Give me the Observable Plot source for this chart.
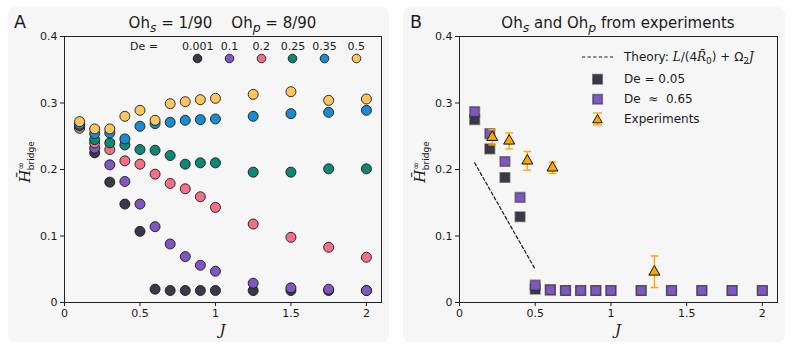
<!DOCTYPE html>
<html><head><meta charset="utf-8">
<script src="https://cdn.jsdelivr.net/npm/d3@7"></script>
<script src="https://cdn.jsdelivr.net/npm/@observablehq/plot@0.6"></script>
<style>
body{margin:0;background:#fff;font-family:"DejaVu Sans",sans-serif;color:#1a1a1a}
#root{position:relative;width:793px;height:355px;overflow:hidden;background:#fff}
.panel{position:absolute;background:#f6f6f6;border-radius:7px}
.abs{position:absolute;white-space:nowrap;line-height:1}
.plot{position:absolute;top:0}
.m{font-family:"DejaVu Serif",serif;font-style:italic}
sub,sup{line-height:0}
</style></head><body><div id="root"></div>
<script>
// ---------- Panel A data ----------
const J_A = [0.1,0.2,0.3,0.4,0.5,0.6,0.7,0.8,0.9,1.0,1.25,1.5,1.75,2.0];
const deLevels = ["0.001","0.1","0.2","0.25","0.35","0.5"];
const H_De0001 = [0.264,0.225,0.181,0.148,0.107,0.020,0.018,0.018,0.018,0.018,0.018,0.018,0.018,0.018];
const H_De01   = [0.265,0.232,0.207,0.182,0.148,0.114,0.088,0.069,0.056,0.047,0.029,0.022,0.020,0.018];
const H_De02   = [0.262,0.240,0.230,0.213,0.208,0.193,0.179,0.171,0.159,0.143,0.118,0.098,0.083,0.068];
const H_De025  = [0.266,0.245,0.240,0.237,0.230,0.229,0.221,0.208,0.210,0.210,0.196,0.196,0.201,0.201];
const H_De035  = [0.268,0.254,0.255,0.246,0.265,0.269,0.271,0.274,0.275,0.276,0.280,0.284,0.286,0.289];
const H_De05   = [0.272,0.261,0.261,0.280,0.289,0.274,0.299,0.302,0.305,0.307,0.313,0.317,0.304,0.306];
const deColors = ["#3c3846","#7e57c2","#f0708a","#0e8872","#1a8bd0","#fdc55e"];

// ---------- Panel B data ----------
const J_B = [0.1,0.2,0.3,0.4,0.5,0.6,0.7,0.8,0.9,1.0,1.2,1.4,1.6,1.8,2.0];
const H_De005 = [0.275,0.231,0.188,0.129,0.020,0.019,0.018,0.018,0.018,0.018,0.018,0.018,0.018,0.018,0.018];
const H_De065 = [0.287,0.254,0.212,0.158,0.026,0.019,0.018,0.018,0.018,0.018,0.018,0.018,0.018,0.018,0.018];
const expJ  = [0.216,0.328,0.448,0.614,1.287];
const expH  = [0.2485,0.243,0.213,0.2025,0.046];
const expLo = [0.237,0.231,0.199,0.194,0.0225];
const expHi = [0.260,0.255,0.227,0.211,0.070];
const theoryJ = [0.1,0.5];
const theoryH = [0.21,0.05];

const xTicks = [0,0.5,1,1.5,2];
const yTicks = [0,0.1,0.2,0.3,0.4];
const fmt = d => String(d);

// ---------- tables ----------
const seriesA = [H_De0001,H_De01,H_De02,H_De025,H_De035,H_De05];
const dataA = seriesA.flatMap((s,i)=>s.map((h,j)=>({J:J_A[j],H:h,De:deLevels[i]})));
const sqB = [
  ...H_De005.map((h,j)=>({J:J_B[j],H:h,De:"0.05"})),
  ...H_De065.map((h,j)=>({J:J_B[j],H:h,De:"0.65"}))
];
const expB = expJ.map((j,i)=>({J:j,H:expH[i],lo:expLo[i],hi:expHi[i]}));
const theoryB = theoryJ.map((j,i)=>({J:j,H:theoryH[i]}));

const capSymbol = {draw(ctx,size){const w=Math.sqrt(size)/2;ctx.moveTo(-w,0);ctx.lineTo(w,0);}};

const common = {
  height:355, marginTop:36, marginBottom:53, marginLeft:64,
  style:{background:"transparent",fontSize:"11px",fontFamily:"'DejaVu Sans',sans-serif",color:"#1a1a1a",overflow:"visible"},
  x:{domain:[0,2.1],ticks:xTicks,tickFormat:fmt,tickSize:4,tickPadding:3,label:null},
  y:{domain:[0,0.4],ticks:yTicks,tickFormat:fmt,tickSize:4,tickPadding:3,label:null}
};

const plotA = Plot.plot({...common, width:395, marginRight:14,
  color:{domain:deLevels, range:deColors},
  marks:[
    Plot.dot(dataA,{x:"J",y:"H",fill:"De",stroke:"#1a1a1a",strokeWidth:0.9,r:5}),
    Plot.frame({stroke:"#222",strokeWidth:1})
  ]});
const plotB = Plot.plot({...common, width:398, marginRight:16,
  marks:[
    Plot.line(theoryB,{x:"J",y:"H",stroke:"#1a1a1a",strokeWidth:1.2,strokeDasharray:"3.2,2.4"}),
    Plot.dot(sqB,{x:"J",y:"H",symbol:"square",r:5.4,fill:d=>d.De==="0.05"?"#3c3846":"#7e57c2",stroke:"#333",strokeOpacity:0.55,strokeWidth:1.6}),
    Plot.ruleX(expB,{x:"J",y1:"lo",y2:"hi",stroke:"#ffa500",strokeWidth:1.4}),
    Plot.dot(expB,{x:"J",y:"lo",symbol:capSymbol,r:4.4,stroke:"#ffa500",strokeWidth:1.4}),
    Plot.dot(expB,{x:"J",y:"hi",symbol:capSymbol,r:4.4,stroke:"#ffa500",strokeWidth:1.4}),
    Plot.dot(expB,{x:"J",y:"H",symbol:"triangle",r:4.1,fill:"#ffa500",stroke:"#111",strokeWidth:1}),
    Plot.frame({stroke:"#222",strokeWidth:1})
  ]});

const root = document.getElementById("root");
function el(html, css, cls="abs"){const d=document.createElement("div");d.className=cls;d.innerHTML=html;Object.assign(d.style,css);root.appendChild(d);return d;}
el("",{left:"8px",top:"7px",width:"381px",height:"335px"},"panel");
el("",{left:"403px",top:"7px",width:"382px",height:"335px"},"panel");
plotA.classList.add("plot"); plotA.style.left="0px"; root.appendChild(plotA);
plotB.classList.add("plot"); plotB.style.left="395px"; root.appendChild(plotB);

// Panel letters & titles
el("A",{left:"14px",top:"14px",fontSize:"17.5px"});
el("B",{left:"410px",top:"14px",fontSize:"17.5px"});
el('Oh<sub><i>s</i></sub> = 1/90&nbsp;&nbsp;&nbsp;&nbsp;Oh<sub><i>p</i></sub> = 8/90',{left:"222.5px",top:"16px",fontSize:"15px",transform:"translateX(-50%)"});
el('Oh<sub><i>s</i></sub> and Oh<sub><i>p</i></sub> from experiments',{left:"618px",top:"16px",fontSize:"15px",transform:"translateX(-50%)"});

// Axis labels
const ylab = '<span class="m" style="font-size:15px">H&#772;</span><sup style="font-size:9px">∞</sup><sub style="font-size:9px;margin-left:-8px">bridge</sub>';
el(ylab,{left:"25px",top:"162px",transform:"translate(-50%,-50%) rotate(-90deg)"});
el(ylab,{left:"420px",top:"162px",transform:"translate(-50%,-50%) rotate(-90deg)"});
el('<span class="m" style="font-size:15px">J</span>',{left:"222.5px",top:"322px",transform:"translateX(-50%)"});
el('<span class="m" style="font-size:15px">J</span>',{left:"618px",top:"322px",transform:"translateX(-50%)"});

// Legend A
el("De =",{left:"130px",top:"41px",fontSize:"11px"});
const legA = el("",{left:"182px",top:"41px",display:"flex"});
deLevels.forEach((lv,i)=>{
  const it=document.createElement("div");
  it.style.cssText="width:31.7px;display:flex;flex-direction:column;align-items:center;font-size:11px;line-height:1";
  it.innerHTML=`<span>${lv}</span><svg width="11" height="11" style="margin-top:1px"><circle cx="5.5" cy="5.5" r="4.3" fill="${deColors[i]}" stroke="#1a1a1a" stroke-width="0.9"/></svg>`;
  legA.appendChild(it);
});

// Legend B
const sym = {
  dash:'<svg width="34" height="10"><line x1="1" y1="5" x2="32" y2="5" stroke="#1a1a1a" stroke-width="1.2" stroke-dasharray="3.2,2.4"/></svg>',
  sq:c=>`<svg width="34" height="12"><rect x="11.8" y="1.5" width="9.5" height="9.5" fill="${c}" stroke="#333" stroke-opacity="0.55" stroke-width="1.6"/></svg>`,
  tri:'<svg width="34" height="16"><line x1="16.5" y1="2" x2="16.5" y2="14" stroke="#ffa500" stroke-width="1.4"/><line x1="12" y1="2" x2="21" y2="2" stroke="#ffa500" stroke-width="1.4"/><line x1="12" y1="14" x2="21" y2="14" stroke="#ffa500" stroke-width="1.4"/><path d="M16.5,3.5 L21.3,11.8 L11.7,11.8 Z" fill="#ffa500" stroke="#111" stroke-width="1"/></svg>'
};
const legBRows = [
  [sym.dash,'Theory: <span class="m">L</span>/(4<span class="m">R&#772;</span><sub style="font-size:9px">0</sub>) + Ω<sub style="font-size:9px">2</sub><span class="m">J</span>',57],
  [sym.sq("#3c3846"),'De = 0.05',79],
  [sym.sq("#7e57c2"),'De &nbsp;≈ &nbsp;0.65',99],
  [sym.tri,'Experiments',119]
];
legBRows.forEach(([s,t,y])=>{
  el(`<div style="display:flex;align-items:center;height:16px">${s}<span style="margin-left:9px;font-size:12px">${t}</span></div>`,{left:"581px",top:(y-8)+"px"});
});
</script></body></html>
